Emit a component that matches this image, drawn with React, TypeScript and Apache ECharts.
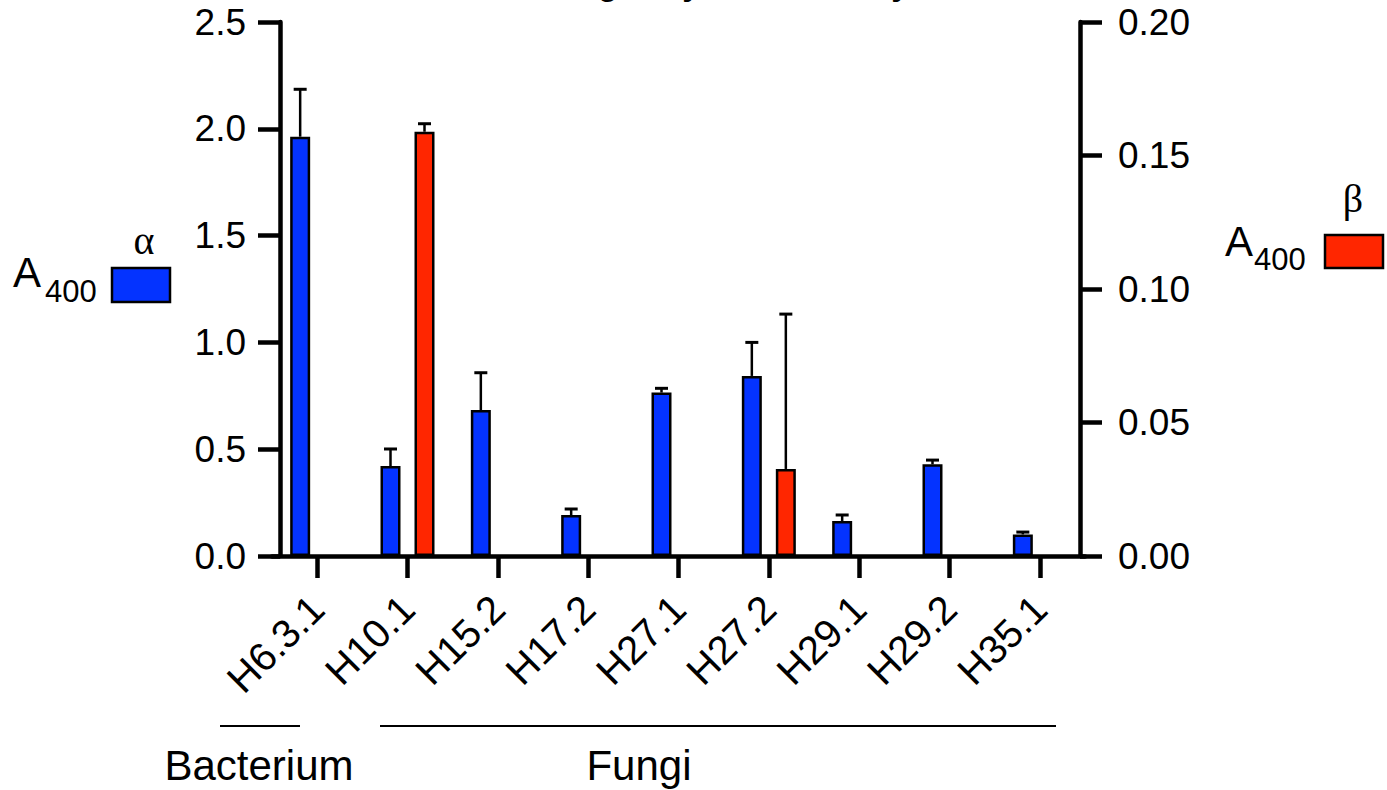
import React, { useEffect, useRef } from "react";
import * as echarts from "echarts";

const categories = ["H6.3.1", "H10.1", "H15.2", "H17.2", "H27.1", "H27.2", "H29.1", "H29.2", "H35.1"];
const alphaValues = [1.963, 0.421, 0.683, 0.192, 0.765, 0.843, 0.164, 0.429, 0.101];
const alphaErrors = [0.222, 0.08, 0.175, 0.028, 0.02, 0.157, 0.028, 0.02, 0.011];
const betaValues: (number | null)[] = [null, 0.1589, null, null, null, 0.0326, null, null, null];
const betaErrors: (number | null)[] = [null, 0.003, null, null, null, 0.058, null, null, null];
const leftTicks = { min: 0, max: 2.5, interval: 0.5 };
const rightTicks = { min: 0, max: 0.2, interval: 0.05 };
const titleText = "Screening enzymatic activity";
const groupLabels = ["Bacterium", "Fungi"];

const BLUE = "#0433FF";
const RED = "#FF2600";
const FONT = "'Liberation Sans', Arial, Helvetica, sans-serif";
const SERIF = "'Liberation Serif', 'Times New Roman', serif";

function errorRenderer(offset: number) {
  return (params: any, api: any) => {
    const i = api.value(0);
    const v = api.value(1);
    const e = api.value(2);
    const base = api.coord([i, v]);
    const top = api.coord([i, v + e]);
    const x = base[0] + offset;
    return {
      type: "group",
      children: [
        { type: "line", shape: { x1: x, y1: base[1], x2: x, y2: top[1] }, style: { stroke: "#000", lineWidth: 2.5 } },
        { type: "line", shape: { x1: x - 6.5, y1: top[1], x2: x + 6.5, y2: top[1] }, style: { stroke: "#000", lineWidth: 3 } },
      ],
    };
  };
}

export default function App() {
  const ref = useRef<HTMLDivElement>(null);
  useEffect(() => {
    if (!ref.current) return;
    const chart = echarts.init(ref.current, null, { renderer: "svg" });
    const alphaErr = alphaValues.map((v, i) => [i, v, alphaErrors[i]]);
    const betaErr = betaValues
      .map((v, i) => (v == null ? null : [i, v, betaErrors[i] as number]))
      .filter((d) => d !== null);

    const axisLine = { show: true, lineStyle: { color: "#000", width: 4.5 } };
    const axisTick = { show: true, length: 22, lineStyle: { color: "#000", width: 4.5 } };

    chart.setOption({
      animation: false,
      backgroundColor: "#fff",
      grid: { left: 272, right: 302, top: 22, bottom: 234, containLabel: false },
      xAxis: {
        type: "category",
        data: categories,
        axisLine,
        axisTick: { ...axisTick, alignWithLabel: true },
        axisLabel: { rotate: 45, margin: 46, color: "#000", fontSize: 40, fontFamily: FONT, interval: 0 },
      },
      yAxis: [
        {
          type: "value",
          position: "left",
          offset: -8,
          min: leftTicks.min,
          max: leftTicks.max,
          interval: leftTicks.interval,
          axisLine,
          axisTick,
          splitLine: { show: false },
          axisLabel: { color: "#000", fontSize: 37, fontFamily: FONT, margin: 34, formatter: (v: number) => v.toFixed(1) },
        },
        {
          type: "value",
          position: "right",
          offset: -5,
          min: rightTicks.min,
          max: rightTicks.max,
          interval: rightTicks.interval,
          axisLine,
          axisTick,
          splitLine: { show: false },
          axisLabel: { color: "#000", fontSize: 37, fontFamily: FONT, margin: 38, formatter: (v: number) => v.toFixed(2) },
        },
      ],
      series: [
        {
          name: "α",
          type: "bar",
          yAxisIndex: 0,
          data: alphaValues,
          barWidth: 20,
          barGap: "70%",
          itemStyle: { color: BLUE, borderColor: "#000", borderWidth: 2.5 },
        },
        {
          name: "β",
          type: "bar",
          yAxisIndex: 1,
          data: betaValues,
          barWidth: 20,
          barGap: "70%",
          itemStyle: { color: RED, borderColor: "#000", borderWidth: 2.5 },
        },
        {
          type: "custom",
          yAxisIndex: 0,
          data: alphaErr,
          encode: { x: 0, y: 1 },
          renderItem: errorRenderer(-17),
          z: 5,
        },
        {
          type: "custom",
          yAxisIndex: 1,
          data: betaErr,
          encode: { x: 0, y: 1 },
          renderItem: errorRenderer(17),
          z: 5,
        },
      ],
      graphic: [
        {
          type: "text",
          x: 684,
          y: -16.5,
          style: { text: titleText, fontSize: 33, fontWeight: "bold", fontFamily: FONT, fill: "#000", align: "center", verticalAlign: "middle" },
        },
        // left legend
        { type: "text", x: 13, y: 272, style: { text: "A", fontSize: 42, fontFamily: FONT, fill: "#000", align: "left", verticalAlign: "middle" } },
        { type: "text", x: 45, y: 291, style: { text: "400", fontSize: 31, fontFamily: FONT, fill: "#000", align: "left", verticalAlign: "middle" } },
        { type: "rect", shape: { x: 112, y: 268, width: 58, height: 34 }, style: { fill: BLUE, stroke: "#000", lineWidth: 2.5 } },
        { type: "text", x: 144, y: 240, style: { text: "α", fontSize: 40, fontFamily: SERIF, fill: "#000", align: "center", verticalAlign: "middle" } },
        // right legend
        { type: "text", x: 1225, y: 241, style: { text: "A", fontSize: 42, fontFamily: FONT, fill: "#000", align: "left", verticalAlign: "middle" } },
        { type: "text", x: 1254, y: 259, style: { text: "400", fontSize: 31, fontFamily: FONT, fill: "#000", align: "left", verticalAlign: "middle" } },
        { type: "rect", shape: { x: 1325, y: 235, width: 58, height: 33 }, style: { fill: RED, stroke: "#000", lineWidth: 2.5 } },
        { type: "text", x: 1353, y: 198, style: { text: "β", fontSize: 40, fontFamily: SERIF, fill: "#000", align: "center", verticalAlign: "middle" } },
        // group annotations
        { type: "line", shape: { x1: 220, y1: 726, x2: 300, y2: 726 }, style: { stroke: "#000", lineWidth: 2 } },
        { type: "line", shape: { x1: 380, y1: 726, x2: 1056, y2: 726 }, style: { stroke: "#000", lineWidth: 2 } },
        { type: "text", x: 259, y: 765, style: { text: groupLabels[0], fontSize: 42, fontFamily: FONT, fill: "#000", align: "center", verticalAlign: "middle" } },
        { type: "text", x: 639, y: 765, style: { text: groupLabels[1], fontSize: 42, fontFamily: FONT, fill: "#000", align: "center", verticalAlign: "middle" } },
      ],
    });
    return () => chart.dispose();
  }, []);
  return <div ref={ref} style={{ position: "fixed", left: 0, top: 0, width: 1387, height: 790 }} />;
}
